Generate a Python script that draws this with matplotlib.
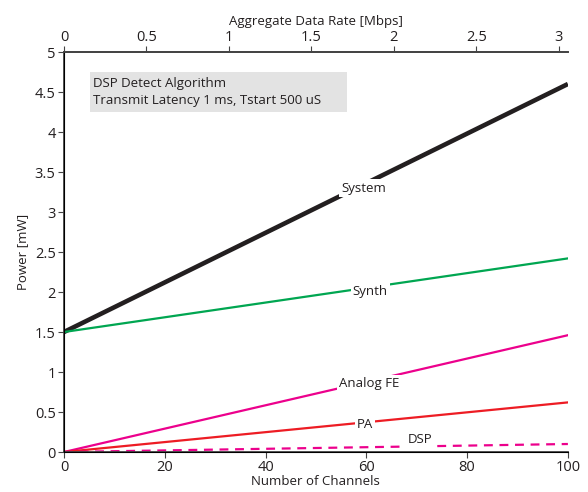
import matplotlib
matplotlib.use("Agg")
import matplotlib.pyplot as plt
from matplotlib.patches import Rectangle

plt.rcParams['font.family'] = ['Open Sans', 'DejaVu Sans']

# endpoints of each (linear) power curve
channels = [0, 100]
system = [1.5, 4.6]
synth = [1.5, 2.42]
analog_fe = [0.0, 1.46]
pa = [0.0, 0.62]
dsp = [0.0, 0.10]

# inline labels: (text, channel, power)
labels = [("System", 59.5, 3.3), ("Synth", 60.8, 2.01),
          ("Analog FE", 60.5, 0.86), ("PA", 59.7, 0.35), ("DSP", 70.6, 0.16)]

max_rate = 3.055  # Mbps at 100 channels

fig = plt.figure(figsize=(5.88, 4.92), dpi=100)
ax = fig.add_axes([0.1088, 0.0813, 0.857, 0.813])

spine_c = '#444444'
ax.plot(channels, system, color='#231f20', lw=3.3, solid_capstyle='butt')
ax.plot(channels, synth, color='#00a651', lw=1.6)
ax.plot(channels, analog_fe, color='#ec008c', lw=1.6)
ax.plot(channels, pa, color='#ed1c24', lw=1.6)
ax.plot(channels, dsp, color='#ec008c', lw=1.6, ls=(0, (4, 3)))

for txt, x, y in labels:
    ax.text(x, y, txt, ha='center', va='center', fontsize=9.5, color='#231f20',
            bbox=dict(facecolor='white', edgecolor='none', pad=1.5), zorder=5)

ax.add_patch(Rectangle((5.2, 4.25), 51.0, 0.5, facecolor='#e3e3e3',
                       edgecolor='none', zorder=1))
ax.text(5.7, 4.5, "DSP Detect Algorithm\nTransmit Latency 1 ms, Tstart 500 uS",
        ha='left', va='center', fontsize=9.5, color='#231f20', linespacing=1.35,
        zorder=2)

ax.set_xlim(0, 100)
ax.set_ylim(0, 5)
ax.set_xticks([0, 20, 40, 60, 80, 100])
ax.set_yticks([0, 0.5, 1, 1.5, 2, 2.5, 3, 3.5, 4, 4.5, 5])
ax.set_yticklabels(['0', '0.5', '1', '1.5', '2', '2.5', '3', '3.5', '4', '4.5', '5'])
ax.set_xlabel("Number of Channels", fontsize=9.5, labelpad=0, color='#231f20')
ax.set_ylabel("Power [mW]", fontsize=9.5, labelpad=4, color='#231f20')
ax.spines['right'].set_visible(False)
for s in ['left', 'bottom', 'top']:
    ax.spines[s].set_color(spine_c)
    ax.spines[s].set_linewidth(1.3)
ax.tick_params(colors=spine_c, labelcolor='#231f20', labelsize=10.5,
               length=4, width=0.8, pad=2)

top = ax.twiny()
top.set_xlim(0, max_rate)
top.set_xticks([0, 0.5, 1, 1.5, 2, 2.5, 3])
top.set_xticklabels(['0', '0.5', '1', '1.5', '2', '2.5', '3'])
top.set_xlabel("Aggregate Data Rate [Mbps]", fontsize=9.5, labelpad=4, color='#231f20')
top.spines['right'].set_visible(False)
top.spines['top'].set_color(spine_c)
top.spines['top'].set_linewidth(1.3)
top.tick_params(colors=spine_c, labelcolor='#231f20', labelsize=10.5,
                length=4, width=0.8, pad=1)

fig.savefig("out.png", dpi=100, facecolor='white')
